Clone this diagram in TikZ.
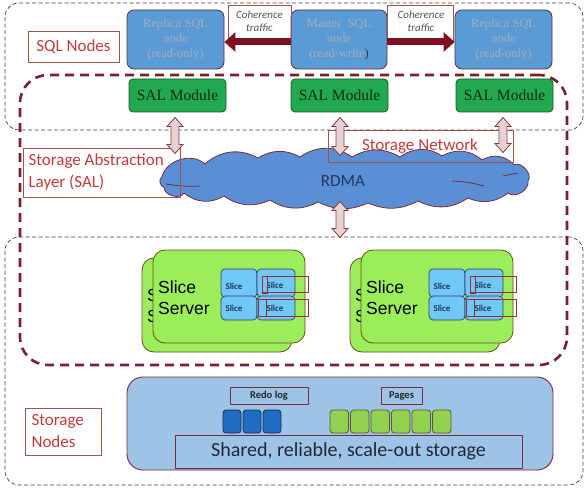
\documentclass[tikz,border=0pt]{standalone}
\usepackage{fontspec}
\setmainfont{Liberation Serif}
\newfontfamily\calfont{Carlito}
\newfontfamily\arifont{Liberation Sans}
\usetikzlibrary{arrows.meta,fit}
\definecolor{sqlblue}{HTML}{5B9BD5}
\definecolor{sqltext}{HTML}{A3ABBB}
\definecolor{boxbrd}{HTML}{5C2A3E}
\definecolor{salgreen}{HTML}{22A84F}
\definecolor{salbrd}{HTML}{1C5A2C}
\definecolor{saltext}{HTML}{0B2B12}
\definecolor{darkred}{HTML}{7F1020}
\definecolor{dashred}{HTML}{7A1F2E}
\definecolor{lblred}{HTML}{C23B3B}
\definecolor{lblbrd}{HTML}{A0524F}
\definecolor{arrfill}{HTML}{E5D3D3}
\definecolor{arrbrd}{HTML}{8C3B3B}
\definecolor{cloudblue}{HTML}{5A8FD6}
\definecolor{cloudbrd}{HTML}{7A2A3A}
\definecolor{navy}{HTML}{1F3864}
\definecolor{srvgreen}{HTML}{9BEE5A}
\definecolor{srvbrd}{HTML}{6A4A22}
\definecolor{sliceblue}{HTML}{6FC8F5}
\definecolor{slicebrd}{HTML}{3C3C5C}
\definecolor{slicered}{HTML}{9B2C3A}
\definecolor{stblue}{HTML}{9DC3E6}
\definecolor{stbrd}{HTML}{7A2A3A}
\definecolor{redoblue}{HTML}{1F6CC2}
\definecolor{redobrd}{HTML}{1A2F55}
\definecolor{pagegreen}{HTML}{92D050}
\definecolor{pagebrd}{HTML}{5A5A2A}
\definecolor{cohtext}{HTML}{555555}
\definecolor{sharedtext}{HTML}{202838}
\newcommand{\dblarrowAt}[4]{%
  \coordinate (#1) at (#2,#3);
  \draw[dblar] (#2,#3-#4/2) -- (#2+8,#3-#4/2+9) -- (#2+4,#3-#4/2+9) -- (#2+4,#3+#4/2-9) -- (#2+8,#3+#4/2-9) -- (#2,#3+#4/2) -- (#2-8,#3+#4/2-9) -- (#2-4,#3+#4/2-9) -- (#2-4,#3-#4/2+9) -- (#2-8,#3-#4/2+9) -- cycle;}
\begin{document}
\begin{tikzpicture}[x=1pt,y=-1pt,
  every fit/.style={inner sep=0pt},
  thindash/.style={draw=black!75, line width=0.7pt, dash pattern=on 4pt off 2.5pt, rounded corners=14pt},
  thickdash/.style={draw=dashred, line width=2.6pt, dash pattern=on 9pt off 6pt, rounded corners=28pt},
  sqlnode/.style={draw=boxbrd, fill=sqlblue, rounded corners=7pt, line width=0.8pt, inner sep=0pt},
  sqltxt/.style={font=\fontsize{12.5}{15}\selectfont, text=sqltext, align=center},
  lblbox/.style={draw=lblbrd, line width=0.7pt, inner sep=0pt},
  lbltxt/.style={font=\calfont\fontsize{17}{22}\selectfont, text=lblred, align=left},
  cohtxt/.style={font=\calfont\itshape\fontsize{11}{13}\selectfont, text=cohtext, align=center},
  cohar/.style={draw=darkred, line width=7pt, -{Triangle[length=11pt,width=19pt]}},
  salnode/.style={draw=salbrd, fill=salgreen, rounded corners=4pt, line width=0.8pt, inner sep=0pt},
  saltxt/.style={font=\fontsize{15.5}{18}\selectfont, text=saltext},
  dblar/.style={draw=arrbrd, fill=arrfill, line width=0.8pt, line join=miter},
  cloudline/.style={draw=cloudbrd, line width=0.8pt},
  srvbox/.style={draw=srvbrd, fill=srvgreen, rounded corners=12pt, line width=0.8pt, inner sep=0pt},
  srvtxt/.style={font=\arifont\fontsize{17.5}{21}\selectfont, align=left, anchor=west, inner sep=0pt},
  slicebox/.style={draw=slicebrd, fill=sliceblue, rounded corners=4pt, line width=0.7pt, inner sep=0pt},
  slicetxt/.style={font=\calfont\bfseries\fontsize{9}{10}\selectfont, text=navy, inner sep=0pt},
  slicered/.style={draw=slicered, line width=0.8pt},
  stbox/.style={draw=stbrd, fill=stblue, line width=0.9pt, inner sep=0pt},
  smalltxt/.style={font=\calfont\bfseries\fontsize{10.5}{12}\selectfont, text=black!85},
  sqbox/.style={rounded corners=3pt, line width=0.8pt, inner sep=0pt}
]
\useasboundingbox[fill=white] (0,0) rectangle (586,489);

% zones
\node[thindash, fit={(5,3)(583,130)}] (sqlzone) {};
\node[thindash, fit={(5,237)(583,485)}] (stzone) {};
\node[thickdash, fit={(20,75)(567,365)}] (salzone) {};

% SQL nodes
\node[sqlnode, fit={(127,10)(224,69)}] (rep1) {};
\node[sqlnode, fit={(291,10)(387,69)}] (master) {};
\node[sqlnode, fit={(455,10)(552,69)}] (rep2) {};
\node[sqltxt] (rep1t) at (rep1.center) {Replica SQL\\node\\(read-only)};
\node[sqltxt] (mastert) at (master.center) {Master\ \ SQL\\node\\(read-write{\color{navy})}};
\node[sqltxt] (rep2t) at (rep2.center) {Replica SQL\\node\\(read-only)};

% coherence
\node[lblbox, fit={(228,5)(291,42)}] (coh1) {};
\node[lblbox, fit={(387,5)(453,42)}] (coh2) {};
\node[cohtxt] (coh1t) at (259.5,21.5) {Coherence\\traffic};
\node[cohtxt] (coh2t) at (421,21.5) {Coherence\\traffic};
\draw[cohar] ([yshift=-2.5pt]master.west) -- ([yshift=-2.5pt]rep1.east);
\draw[cohar] ([yshift=-2.5pt]master.east) -- ([yshift=-2.5pt]rep2.west);

% SQL nodes label
\node[lblbox, fit={(28,31)(119,62)}] (sqllbl) {};
\node[lbltxt] (sqllblt) at (sqllbl.center) {SQL Nodes};

% SAL modules
\node[salnode, fit={(129,79)(226,112)}] (sal1) {};
\node[salnode, fit={(291,79)(388,112)}] (sal2) {};
\node[salnode, fit={(456,79)(553,112)}] (sal3) {};
\node[saltxt] (sal1t) at (sal1.center) {SAL Module};
\node[saltxt] (sal2t) at (sal2.center) {SAL Module};
\node[saltxt] (sal3t) at (sal3.center) {SAL Module};

% cloud
\path[cloudline, fill=cloudblue]
  (162,177) to[bend left=60] (205,164) to[bend left=35] (258,158) to[bend left=30] (300,157)
  to[bend left=35] (352,157) to[bend left=30] (400,157) to[bend left=35] (442,156)
  to[bend left=35] (482,160) to[bend left=40] (514,165) to[bend left=80] (528,181)
  to[bend left=70] (508,193) to[bend left=30] (468,198) to[bend left=30] (418,201)
  to[bend left=25] (368,203) to[bend left=25] (318,202) to[bend left=30] (270,200)
  to[bend left=30] (224,196) to[bend left=35] (184,193) to[bend left=80] (164,187)
  to[bend left=90] cycle;
\draw[cloudline] (166,184) to[bend right=6] (200,186);
\draw[cloudline] (452,181) to[bend left=6] (484,186);
\draw[cloudline] (503,176) -- (518,173);
\node[font=\calfont\fontsize{17}{20}\selectfont, text=navy] (rdma) at (343,181) {RDMA};

% labels over cloud
\node[lblbox, fit={(23,148)(180,197)}] (sallbl) {};
\node[lbltxt, anchor=west] (sallblt) at (25,172) {Storage Abstraction\\Layer (SAL)};
\node[lblbox, fit={(328,130)(513,162)}] (netlbl) {};
\node[lbltxt] (netlblt) at (420,146) {Storage Network};

% double arrows
\dblarrowAt{a1}{175}{135.5}{36}
\dblarrowAt{a2}{340}{136.5}{38}
\dblarrowAt{a3}{503}{135}{35}
\dblarrowAt{a4}{340}{219.5}{36}

% slice servers
\foreach \dx/\nm in {0/L, 208/R} {
\begin{scope}[xshift=\dx pt, name prefix=\nm-]
  \node[srvbox, fit={(142,258)(292,352)}] (back) {};
  \node[srvtxt] (backt) at (147,305.5) {Slice\\Server};
  \node[srvbox, fit={(153,250)(305,343)}] (front) {};
  \node[srvtxt] (frontt) at (158,297.5) {Slice\\Server};
  \node[slicebox, fit={(221,269)(257,297)}] (s1) {};
  \node[slicebox, fit={(257,269)(295,297)}] (s2) {};
  \node[slicebox, fit={(221,296)(257,320)}] (s3) {};
  \node[slicebox, fit={(257,296)(295,320)}] (s4) {};
  \node[slicetxt] (s1t) at (234,286) {Slice};
  \node[slicetxt] (s2t) at (275,285) {Slice};
  \node[slicetxt] (s3t) at (234,308) {Slice};
  \node[slicetxt] (s4t) at (275,308) {Slice};
  \draw[slicered] (262,276) rectangle (308,292);
  \draw[slicered] (262,276) rectangle (267,293);
  \draw[slicered] (258,299) rectangle (308,316);
  \draw[slicered] (258,299) rectangle (266,316);
\end{scope}
}

% storage nodes label
\node[lblbox, fit={(25,408)(101,455)}] (stlbl) {};
\node[lbltxt, anchor=west] (stlblt) at (28,431.5) {Storage\\Nodes};

% storage
\node[stbox, rounded corners=16pt, fit={(127,377)(553,470)}] (storage) {};
\node[stbox, fit={(230,387)(308,404)}] (redo) {};
\node[smalltxt] (redot) at (redo.center) {Redo log};
\node[stbox, fit={(381,387)(422,404)}] (pages) {};
\node[smalltxt] (pagest) at (pages.center) {Pages};
\foreach \i/\x in {1/223,2/243,3/263} {
  \node[sqbox, draw=redobrd, fill=redoblue, fit={(\x,410)(\x+18,433)}] (r\i) {};
}
\foreach \i in {0,...,5} {
  \node[sqbox, draw=pagebrd, fill=pagegreen, fit={(330+20.5*\i,410)(348.5+20.5*\i,433)}] (p\i) {};
}
\node[stbox, fit={(175,435)(522,468)}] (shared) {};
\node[font=\calfont\fontsize{20}{24}\selectfont, text=sharedtext] (sharedt) at (shared.center) {Shared, reliable, scale-out storage};
\end{tikzpicture}
\end{document}
